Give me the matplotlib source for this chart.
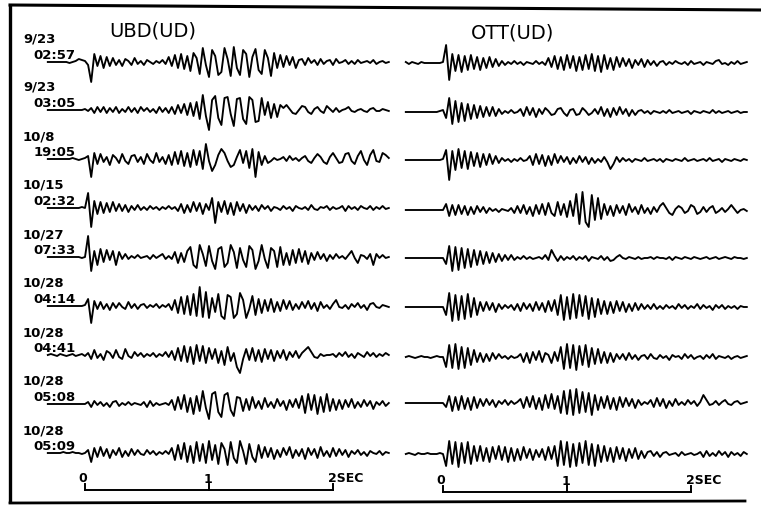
import numpy as np
import matplotlib
matplotlib.use("Agg")
import matplotlib.pyplot as plt

# ---------------- data ----------------
dates = ['9/23', '9/23', '10/8', '10/15', '10/27', '10/28', '10/28', '10/28', '10/28']
times = ['02:57', '03:05', '19:05', '02:32', '07:33', '04:14', '04:41', '05:08', '05:09']
stations = ['UBD(UD)', 'OTT(UD)']
scale_ticks = [0, 1, 2]
scale_labels = ['0', '1', '2SEC']
t_start = -0.30   # seconds, first sample of each trace
dt = 0.025        # seconds between samples

# trace amplitudes (pixels, up positive), UBD station
ubd = [
    [0,0,0,0,0,0,0,-1,0,1,3,2,1,
     -3,-20,8,-4,6,-6,5,-4,
     4,-3,2,-4,3,1,-3,4,-2,1,-3,2,0,-2,1,-1,2,-2,
     5,-4,7,-6,8,-7,6,-9,9,
     4,-12,14,-3,-15,12,6,-13,-10,14,3,-14,15,-6,-13,12,8,-15,5,13,-8,-12,12,4,-14,9,-6,
     7,-5,6,-3,5,-6,2,
     3,-3,4,-1,2,-3,3,-2,1,2,-3,3,-1,0,2,-2,1,-2,2,-1,0,1,-1,2,-2,0,1,-1,0],
    [0,0,0,0,0,0,0,0,0,0,0,0,1,
     -1,2,-3,3,-2,3,-3,2,-2,3,-3,1,-2,3,-2,2,-3,3,-1,2,-2,1,-3,3,-2,2,-3,
     3,-4,5,-3,6,-5,7,-6,8,-9,
     15,-6,-20,10,14,-8,-15,12,13,-4,-16,11,12,-9,-14,13,10,-12,-11,12,-5,
     8,-8,6,-7,5,
     2,5,1,-3,-4,0,4,3,-2,-4,1,3,-1,-3,4,1,-2,2,-2,0,1,3,-1,-2,0,1,-1,-2,1,2,-1,-1,1,0,-1],
    [0,0,0,0,0,0,0,0,1,0,-1,0,1,
     3,-18,6,-5,
     5,-3,2,-6,4,1,-4,5,-2,-5,3,4,-3,2,-5,5,-1,-4,6,-3,2,-5,4,
     -6,7,-5,8,-7,6,-8,9,-6,8,-10,
     15,-2,-12,-6,
     4,10,6,-2,-8,-6,2,9,
     -4,8,-9,10,-18,7,-6,3,
     -4,-2,1,-1,0,
     2,-2,3,-1,1,-2,
     1,3,-2,-4,1,5,2,-3,-5,2,6,1,-4,-3,5,6,-2,-5,3,8,-1,-6,4,9,-2,-3,6,4,1],
    [0,0,0,0,0,0,0,0,0,0,0,1,0,
     15,-19,7,-6,
     6,-5,5,-4,6,-3,4,
     -3,3,-4,2,-2,3,-2,1,-2,2,-1,1,-2,1,-1,2,-1,1,
     -3,4,-5,3,-4,6,-3,5,-6,4,-2,10,-15,6,
     -4,7,-6,5,-7,6,-3,4,-5,3,-2,
     2,-3,3,-1,2,-3,1,0,-2,2,-1,1,-3,2,0,-1,1,-2,3,-1,-2,1,0,2,-2,1,-1,0,2,-3,2,-1,1,-2,2,0,-1,2,-2,1,-1,2,-1,0],
    [0,0,0,0,0,0,0,0,0,0,0,-1,0,
     21,-14,6,-8,
     8,-5,7,-3,6,-8,5,
     -2,3,-2,1,-1,2,-1,0,1,-2,2,-1,1,3,-2,1,-2,
     5,-6,4,-5,6,
     10,-8,-11,12,3,-9,11,-4,-12,8,10,-10,-6,12,5,-11,9,-3,-10,11,7,-12,-4,12,-2,-11,9,6,-10,10,-8,4,
     -8,7,-6,8,-5,6,-7,4,-3,5,-2,3,-4,
     2,-2,3,-1,1,-2,2,6,-1,-6,2,1,-2,3,-8,3,-1,2,-1,0],
    [0,0,0,0,0,0,0,0,0,0,0,0,1,
     7,-17,5,-3,
     4,-3,2,-4,3,-2,3,-1,-3,4,-2,2,-3,1,2,-2,1,-1,2,-2,1,-1,2,
     -4,6,-7,9,-8,10,-9,12,-10,19,-11,14,-12,8,-6,
     12,-10,-13,11,9,-12,-8,13,6,-12,-3,10,-9,7,
     -7,6,-5,7,-6,4,-5,6,-3,5,-4,2,-3,
     4,-2,5,-3,3,-5,4,-2,1,-3,2,6,-1,-2,1,-3,2,-1,3,-2,1,-4,2,3,-1,-2,1,0,-1],
    [0,1,0,-1,1,0,-1,0,1,-1,0,1,-1,
     2,-4,5,-3,1,-5,4,2,-3,5,-2,-4,6,-1,-3,3,-1,2,-2,1,-1,2,-2,1,-1,3,-2,
     4,-5,7,-6,9,-7,8,-9,10,-6,9,-8,7,-4,6,
     -8,4,-10,8,-6,2,-12,-18,-4,
     6,-5,7,-6,5,-7,6,-4,5,-6,4,-3,5,-5,3,-2,4,-3,
     2,5,8,3,-2,-3,1,-1,0,
     0,1,-2,2,-1,3,-2,1,-3,2,0,-2,3,-1,2,-2,1,-1,2,0],
    [0,0,0,0,0,0,0,0,0,0,0,0,0,
     2,-3,3,-1,2,-2,1,-3,2,3,-2,1,-1,2,-1,1,0,-1,2,-3,3,-2,1,-1,0,1,-1,
     4,-6,7,-5,9,-8,6,-10,8,-7,
     13,-4,-15,10,12,-8,-13,9,11,-6,-12,7,
     6,-7,5,-6,7,-4,3,-5,6,-3,2,-4,5,-2,3,-6,4,-3,5,-4,
     8,-9,10,-6,9,-10,7,-8,10,-7,5,-6,4,
     -5,4,-3,5,-4,2,-3,4,-2,3,-5,2,-1,3,-2,1],
    [0,0,0,0,0,1,0,0,1,0,0,-1,0,
     3,-9,5,-4,6,-3,4,-5,3,-2,5,-4,2,-3,4,-2,3,-1,-2,3,-1,2,-2,1,-1,2,-1,
     5,-7,8,-6,10,-9,7,-10,11,-8,9,-10,12,-7,8,
     -11,10,4,-12,11,-5,-10,12,2,-11,9,-4,-9,8,
     -5,6,-4,5,-6,3,-4,5,-2,6,-5,3,-3,4,-6,5,-2,4,-5,6,-3,2,-4,5,-3,4,-2,3,-4,2,-1,3,-2,1,-3,2,0,-1,2,-2,1,0],
]

# trace amplitudes (pixels, up positive), OTT station
ott = [
    [1,-1,1,0,-1,1,0,0,0,0,0,0,1,
     18,-17,
     9,-8,8,-9,7,-7,8,-6,6,-7,5,-5,6,-4,4,-3,
     2,-2,1,-1,2,-1,1,-2,1,0,-1,2,-1,1,-2,
     5,-4,7,-6,6,-7,8,-5,7,-8,6,-7,8,-6,
     9,-8,7,-9,8,-6,5,-7,6,-4,
     5,-3,4,-5,3,-2,4,-4,3,-2,2,-3,1,
     2,-2,1,-1,2,0,-1,1,-2,2,-1,0,1,-2,1,0,-1,2,3,-1,0,-2,1,-1,2,-1,0,1],
    [0,0,0,0,0,0,0,0,0,0,0,1,2,
     -6,14,-12,11,-10,9,-9,8,-7,7,-6,6,-5,5,-4,5,-4,3,
     -2,1,-1,2,-1,0,
     3,-4,5,-3,4,-5,3,-2,
     4,1,-3,-2,3,4,-1,-4,2,3,-3,-2,4,1,-3,-1,3,-2,
     5,-4,3,-5,4,-3,5,-2,3,-4,2,-3,1,
     2,-1,1,-2,1,0,-1,1,-1,2,-1,0,1,-1,0,1,-2,1,0,-1,1,0,-1,2,-1,1,-1,0,1,-1,0,1,-1,0,0],
    [0,0,0,0,0,0,0,0,0,0,0,0,1,
     10,-20,9,-10,11,-8,9,-9,8,-6,7,-7,6,-5,6,-4,4,-3,
     2,-1,1,-2,1,-1,2,-1,0,
     4,-5,6,-4,5,-6,4,-5,6,-3,4,-2,
     3,-4,2,-3,4,-2,3,-4,2,-3,1,-2,3,-2,-9,-4,3,-2,2,
     -1,1,-2,1,0,-1,2,-1,0,1,-1,1,-2,1,0,-1,1,0,-1,2,-1,0,1,-1,0,1,-1,2,-1,0,1,-2,1,0,-1,1,0,-1,1,0],
    [0,0,0,0,0,0,0,0,0,0,0,0,0,
     6,-6,5,-5,
     5,-4,4,-5,3,-4,4,-2,3,-3,2,-1,1,-2,1,0,-1,
     2,-3,4,-3,5,-4,3,-6,5,-4,6,-5,7,-3,-6,8,-5,6,-7,9,
     -6,16,-14,18,-12,-17,15,-10,12,-9,
     6,-5,4,-6,5,-3,4,-5,6,-2,3,-4,5,-3,2,-4,3,-2,4,
     7,2,-3,-5,1,4,2,-3,-1,5,3,-4,-2,
     3,-2,2,4,-3,-1,2,-2,1,5,1,-3,0,1,-1],
    [0,0,0,0,0,0,0,0,0,0,0,0,0,
     -6,12,-13,11,-12,10,-10,9,-9,8,-7,7,-6,6,-5,
     5,-4,4,-3,3,-2,3,-2,1,-1,2,-1,1,-1,0,1,-1,
     3,-2,8,2,-3,
     2,-2,1,-1,2,-2,1,-1,2,-3,1,0,-1,2,-2,1,-3,-2,1,3,
     0,-1,1,0,-1,1,-1,0,0,1,-1,1,0,0,-1,1,-2,1,0,-1,1,0,-1,1,0,-1,0,1,-1,0,1,-1,0,1,0,-1,1,0,0,-1,0],
    [0,0,0,0,0,0,0,0,0,0,0,0,0,
     -8,14,-14,12,-13,11,-12,13,-10,9,-8,
     5,-4,5,-3,4,-5,3,-2,2,-1,
     2,-3,3,-4,4,-2,3,-4,5,-3,4,-5,6,-4,7,
     -8,12,-13,10,-12,13,-11,12,-9,11,-12,9,-10,8,-7,
     6,-7,5,-6,6,-4,5,-5,3,-4,4,-3,3,-2,2,
     -2,3,-2,1,-2,2,-1,1,-2,3,-1,2,-2,1,-1,3,-2,2,-1,1,-3,2,-1,2,-2,1,-1,1,-2,1,0,0],
    [0,1,0,-1,0,1,0,0,-1,0,1,0,0,
     -10,12,-11,13,-12,10,-11,9,-8,7,
     -5,4,-5,3,-4,4,-2,3,-1,1,-2,1,-1,0,
     3,-5,4,-6,5,-3,6,-5,4,2,-6,5,-4,
     10,-12,13,-11,12,-13,11,-8,12,-10,9,-7,8,
     -6,5,-6,4,-5,3,-2,
     3,-3,4,-2,2,-3,1,2,-2,3,-1,-2,2,-1,1,-3,2,0,1,-2,3,-1,2,-2,0,1,-2,2,-1,3,-2,1,0,-1,1,-2,0,1,-1,0,1],
    [0,0,0,0,0,0,0,0,0,0,0,0,0,
     -4,7,-8,6,-7,7,-6,5,-7,6,-5,4,
     -3,4,-2,3,-4,2,-1,3,-2,2,-1,1,
     4,-5,6,-4,7,-6,5,-7,8,-5,9,-6,7,
     -10,12,-11,13,-12,14,-10,11,-9,10,-12,8,-7,
     6,-5,7,-6,5,-7,6,-4,5,-3,4,-5,3,-2,1,-1,
     3,-4,5,-3,4,-5,2,-3,4,-2,1,-2,3,-1,2,-3,1,8,3,-2,-1,2,-2,1,3,-1,-2,1,2,-1,0,1],
    [0,1,0,-1,1,0,0,1,0,0,0,1,0,
     -12,13,-10,12,-13,11,-9,12,-10,8,-7,
     8,-7,6,-8,7,-5,8,-6,7,-8,6,-7,5,-6,7,-4,5,-6,4,-3,5,-6,7,-5,8,
     -12,13,-11,12,-13,10,-12,11,-9,13,-11,10,-12,9,-8,
     8,-7,6,-8,7,-5,6,-7,5,-4,6,-5,3,-4,2,
     3,-2,2,-3,1,2,-1,0,1,-2,2,-1,0,1,-1,0,
     2,-3,3,-2,1,-2,3,-1,2,-3,2,-1,1,-2,2,0],
]

# ---------------- layout ----------------
W, H = 761, 514
PX_PER_SEC = 124.0
row_y = {
    'ubd': [62, 110, 159, 208, 257, 306, 355, 404, 453],
    'ott': [63, 112, 160, 210, 258, 307, 357, 403, 454],
}
zero_px = {'ubd': 85.0, 'ott': 443.0}
t_lim = {'ubd': (-0.65, 2.55), 'ott': (-0.40, 2.55)}

fig = plt.figure(figsize=(W / 100, H / 100), dpi=100)
fig.patch.set_facecolor('white')

bg = fig.add_axes([0, 0, 1, 1])
bg.set_xlim(0, W)
bg.set_ylim(H, 0)
bg.axis('off')
# frame (scanned, slightly skewed)
bg.plot([10, 10], [5, 503], color='black', lw=2.4, solid_capstyle='butt')
bg.plot([10, 761], [5, 10], color='black', lw=2.2)
bg.plot([10, 745], [503, 501], color='black', lw=2.0)


def make_axes(key):
    t0, t1 = t_lim[key]
    x0 = zero_px[key] + t0 * PX_PER_SEC
    x1 = zero_px[key] + t1 * PX_PER_SEC
    ax = fig.add_axes([x0 / W, 0, (x1 - x0) / W, 1])
    ax.set_xlim(t0, t1)
    ax.set_ylim(H, 0)
    ax.axis('off')
    ax.patch.set_alpha(0)
    return ax


axL = make_axes('ubd')
axR = make_axes('ott')

for ax, key, traces in ((axL, 'ubd', ubd), (axR, 'ott', ott)):
    for k, amp in enumerate(traces):
        amp = np.asarray(amp, dtype=float)
        t = t_start + dt * np.arange(len(amp))
        ax.plot(t, row_y[key][k] - amp, color='black', lw=1.35,
                solid_joinstyle='round')

# station titles
axL.text(0.55, 31, stations[0], fontsize=14, ha='center', va='center',
         family='DejaVu Sans')
axR.text(0.56, 33, stations[1], fontsize=14, ha='center', va='center',
         family='DejaVu Sans')

# date / time labels on the left
for k in range(len(dates)):
    base = row_y['ubd'][k]
    axL.text(-0.50, base - 19, dates[k], fontsize=9.5, fontweight='bold',
             ha='left', va='baseline', family='DejaVu Sans')
    axL.text(-0.415, base - 3, times[k], fontsize=9.5, fontweight='bold',
             ha='left', va='baseline', family='DejaVu Sans')

# time scale bars
for ax, ybar in ((axL, 490), (axR, 492)):
    ax.plot([scale_ticks[0], scale_ticks[-1]], [ybar, ybar], color='black', lw=1.4)
    for tk in scale_ticks:
        ax.plot([tk, tk], [ybar - 6, ybar], color='black', lw=1.4)
    ax.text(scale_ticks[0] - 0.02, ybar - 8, scale_labels[0], fontsize=9,
            fontweight='bold', ha='center', va='baseline')
    ax.text(scale_ticks[1] - 0.01, ybar - 7, scale_labels[1], fontsize=9,
            fontweight='bold', ha='center', va='baseline')
    ax.text(scale_ticks[2] - 0.04, ybar - 8, scale_labels[2], fontsize=9,
            fontweight='bold', ha='left', va='baseline')

fig.savefig('out.png', dpi=100)
